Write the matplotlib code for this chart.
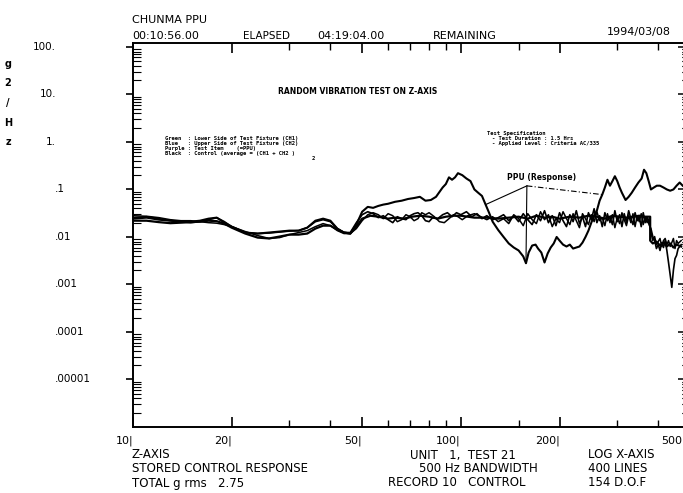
import matplotlib
matplotlib.use('Agg')
import matplotlib.pyplot as plt
from matplotlib.ticker import FixedLocator, NullFormatter, LogLocator
import matplotlib.transforms as mtransforms

# ---------------- data ----------------
ppu_f = [10, 11, 12, 13, 14, 15, 16, 17, 18, 19, 20, 22, 24, 26, 28, 30, 32, 34, 36, 38,
         40, 42, 44, 46, 48, 50, 52, 54, 56, 58, 60, 63, 66, 69, 72, 75, 78, 81, 84, 86,
         88, 90, 92, 94, 96, 98, 101, 104, 107, 110, 113, 116, 119, 122, 125, 130, 135, 140, 145, 150,
         155, 158, 161, 165, 169, 172, 176, 180, 184, 188, 192, 196, 200, 205, 210, 215, 220, 225, 230, 235,
         240, 245, 250, 255, 260, 265, 270, 275, 280, 285, 290, 295, 300, 305, 310, 318, 325, 332, 340, 348,
         356, 362, 368, 374, 380, 388, 396, 405, 415, 425, 435, 445, 455, 465, 475]
ppu_v = [0.0243, 0.0255, 0.0231, 0.022, 0.021, 0.021, 0.022, 0.0243, 0.0255, 0.020, 0.0165, 0.0124, 0.0118, 0.0124, 0.013, 0.0136, 0.0136, 0.0157, 0.022, 0.0243,
         0.022, 0.015, 0.0124, 0.0118, 0.0182, 0.034, 0.043, 0.041, 0.045, 0.048, 0.050, 0.055, 0.058, 0.063, 0.066, 0.070, 0.058, 0.060, 0.070, 0.088,
         0.11, 0.13, 0.18, 0.16, 0.18, 0.22, 0.20, 0.17, 0.15, 0.10, 0.085, 0.073, 0.048, 0.032, 0.021, 0.014, 0.010, 0.0073, 0.0060, 0.0052,
         0.0039, 0.0028, 0.0047, 0.0066, 0.0069, 0.0057, 0.0047, 0.0029, 0.0045, 0.0060, 0.0073, 0.010, 0.0084, 0.0069, 0.0063, 0.0069, 0.0057, 0.0060, 0.0063, 0.0076,
         0.010, 0.0136, 0.020, 0.028, 0.036, 0.058, 0.078, 0.11, 0.16, 0.12, 0.15, 0.19, 0.15, 0.11, 0.085, 0.060, 0.070, 0.085, 0.11, 0.14,
         0.17, 0.26, 0.22, 0.15, 0.10, 0.11, 0.12, 0.12, 0.11, 0.10, 0.094, 0.10, 0.12, 0.14, 0.12]

ctrl_f = [10, 11, 12, 13, 14, 15, 16, 17, 18, 19, 20, 22, 24, 26, 28, 30, 32, 34, 36, 38,
          40, 42, 44, 46, 48, 50, 53, 56, 60, 63, 67, 71, 75, 80, 85, 90, 95, 100, 105, 110,
          120, 130, 140, 150, 160, 170, 180, 190, 200, 215, 230, 245, 260, 275, 290, 305, 320, 335, 350, 365,
          378, 378, 385, 395, 405, 415, 425, 435, 445, 455, 470]
ctrl_v = [0.022, 0.022, 0.0205, 0.0195, 0.020, 0.0205, 0.021, 0.022, 0.0215, 0.019, 0.0157, 0.0118, 0.0097, 0.0093, 0.0102, 0.0112, 0.0112, 0.0118, 0.015, 0.0173,
          0.0173, 0.0143, 0.0124, 0.0118, 0.0165, 0.0243, 0.028, 0.0267, 0.0243, 0.0255, 0.0243, 0.0267, 0.028, 0.0267, 0.0243, 0.0267, 0.028, 0.028, 0.0267, 0.0255,
          0.0255, 0.0243, 0.0255, 0.0267, 0.0243, 0.0280, 0.0255, 0.0267, 0.0243, 0.0267, 0.0255, 0.028, 0.0267, 0.0243, 0.0280, 0.0267, 0.0255, 0.0267, 0.028, 0.0267,
          0.0267, 0.0084, 0.0073, 0.0080, 0.0066, 0.0076, 0.0063, 0.0073, 0.0060, 0.0069, 0.0063]

ch1_f = [10, 11, 12, 13, 14, 15, 16, 17, 18, 19, 20, 22, 24, 26, 28, 30, 32, 34, 36, 38,
         40, 42, 44, 46, 48, 50, 52, 54, 56, 58, 60, 62, 64, 66, 68, 70, 72, 74, 76, 78,
         80, 82, 85, 88, 91, 94, 97, 100, 104, 108, 112, 116, 120, 125, 130, 135, 140, 145, 150, 155,
         160, 165, 170, 175, 180, 185, 190, 195, 200, 205, 210, 215, 220, 225, 230, 235, 240, 245, 250, 255,
         260, 265, 270, 275, 280, 285, 290, 295, 300, 305, 310, 315, 320, 325, 330, 335, 340, 345, 350, 355,
         360, 365, 370, 375, 380, 385, 390, 395, 400, 405, 410, 415, 420, 425, 430, 435, 440, 445, 450, 455,
         460, 470]
ch1_v = [0.0255, 0.0267, 0.0243, 0.022, 0.021, 0.020, 0.021, 0.0231, 0.0255, 0.021, 0.0165, 0.0124, 0.0118, 0.0121, 0.0127, 0.0133, 0.0136, 0.0157, 0.021, 0.0231,
         0.021, 0.015, 0.0124, 0.0124, 0.020, 0.0294, 0.034, 0.0309, 0.0255, 0.028, 0.0231, 0.020, 0.0267, 0.0243, 0.0231, 0.028, 0.0309, 0.0324, 0.028, 0.022,
         0.021, 0.0255, 0.0243, 0.0294, 0.0324, 0.0267, 0.0324, 0.0294, 0.034, 0.0267, 0.0309, 0.0243, 0.028, 0.0231, 0.0255, 0.0294, 0.022, 0.028, 0.021, 0.0309,
         0.0231, 0.0182, 0.0294, 0.022, 0.0357, 0.020, 0.028, 0.0173, 0.0324, 0.022, 0.0165, 0.0294, 0.021, 0.0357, 0.0191, 0.0267, 0.0165, 0.0324, 0.0231, 0.0393,
         0.020, 0.028, 0.0165, 0.0324, 0.022, 0.0267, 0.0182, 0.0357, 0.021, 0.0294, 0.0165, 0.0309, 0.020, 0.0357, 0.0243, 0.0182, 0.0324, 0.022, 0.0267, 0.0165,
         0.0324, 0.020, 0.0267, 0.0182, 0.015, 0.0102, 0.0084, 0.0057, 0.0069, 0.0052, 0.0076, 0.0060, 0.0084, 0.0052, 0.0029, 0.0016, 0.00087, 0.0020, 0.0035, 0.0041,
         0.0057, 0.0069]

ch2_f = [10, 11, 12, 13, 14, 15, 16, 17, 18, 19, 20, 22, 24, 26, 28, 30, 32, 34, 36, 38,
         40, 42, 44, 46, 48, 50, 52, 54, 56, 58, 60, 62, 64, 66, 68, 70, 72, 74, 76, 78,
         80, 83, 86, 89, 92, 95, 98, 101, 105, 110, 115, 120, 125, 130, 135, 140, 145, 150, 155, 160,
         165, 170, 175, 180, 185, 190, 195, 200, 205, 210, 215, 220, 225, 230, 235, 240, 245, 250, 255, 260,
         265, 270, 275, 280, 285, 290, 295, 300, 305, 310, 315, 320, 325, 330, 335, 340, 345, 350, 355, 360,
         365, 370, 375, 380, 385, 390, 395, 400, 405, 410, 415, 420, 425, 430, 435, 440, 445, 450, 455, 460,
         470]
ch2_v = [0.028, 0.0273, 0.0255, 0.0231, 0.022, 0.022, 0.021, 0.020, 0.0195, 0.0182, 0.0165, 0.013, 0.0107, 0.0093, 0.0097, 0.0112, 0.0124, 0.0136, 0.0165, 0.0191,
         0.0173, 0.0136, 0.0118, 0.0118, 0.015, 0.022, 0.0294, 0.0324, 0.0294, 0.0243, 0.0309, 0.028, 0.021, 0.0231, 0.0294, 0.0267, 0.022, 0.0243, 0.0324, 0.0294,
         0.0324, 0.0267, 0.021, 0.020, 0.0243, 0.0294, 0.0267, 0.0231, 0.028, 0.0309, 0.0267, 0.0231, 0.0267, 0.021, 0.0243, 0.0191, 0.0294, 0.0243, 0.0173, 0.0309,
         0.0231, 0.0191, 0.034, 0.0231, 0.0294, 0.0165, 0.0243, 0.020, 0.034, 0.0243, 0.0182, 0.0309, 0.022, 0.0157, 0.0309, 0.0243, 0.0182, 0.0294, 0.021, 0.034,
         0.022, 0.0255, 0.0173, 0.0309, 0.020, 0.0294, 0.0157, 0.0255, 0.0191, 0.0324, 0.0231, 0.0173, 0.028, 0.020, 0.0309, 0.0165, 0.028, 0.021, 0.0309, 0.0182,
         0.0267, 0.020, 0.0243, 0.0124, 0.0084, 0.0102, 0.0069, 0.0080, 0.0093, 0.0063, 0.0084, 0.0093, 0.0069, 0.0084, 0.0063, 0.0076, 0.0093, 0.0057, 0.0084, 0.0073,
         0.0084]

x_ticks = [10, 20, 50, 100, 200, 500]
x_ticklabels = ["10|", "20|", "50|", "100|", "200|", "500"]
x_minor = [30, 40, 60, 70, 80, 90, 150, 300, 400]
y_ticks = [1e2, 1e1, 1e0, 1e-1, 1e-2, 1e-3, 1e-4, 1e-5]
y_ticklabels = ["100.", "10.", "1.", ".1", ".01", ".001", ".0001", ".00001"]

# ---------------- figure ----------------
W, H = 683, 493
fig = plt.figure(figsize=(W / 100, H / 100), dpi=100)
fig.patch.set_facecolor('white')


def fx(px):
    return px / W


def fy(py):
    return 1 - py / H


ax = fig.add_axes([fx(133), fy(427), fx(690) - fx(133), fy(43) - fy(427)])
ax.set_xscale('log')
ax.set_yscale('log')
ax.set_xlim(10, 500)
ax.set_ylim(1e-6, 121)
for s in ax.spines.values():
    s.set_linewidth(1.4)
    s.set_color('black')

ax.plot(ch2_f, ch2_v, color='black', lw=1.1)
ax.plot(ch1_f, ch1_v, color='black', lw=1.2)
ax.plot(ctrl_f, ctrl_v, color='black', lw=1.6)
ax.plot(ppu_f, ppu_v, color='black', lw=1.5)

# x ticks (labels drawn as texts so the last one can sit inside the picture)
ax.xaxis.set_major_locator(FixedLocator(x_ticks))
ax.xaxis.set_major_formatter(NullFormatter())
ax.xaxis.set_minor_locator(FixedLocator(x_minor))
ax.xaxis.set_minor_formatter(NullFormatter())
ax.tick_params(axis='x', which='major', direction='in', length=7, width=1.2,
               top=True, bottom=True)
ax.tick_params(axis='x', which='minor', direction='in', length=5, width=1.0,
               top=True, bottom=True)
xblend = mtransforms.blended_transform_factory(ax.transData, ax.transAxes)
for i, (val, lab) in enumerate(zip(x_ticks, x_ticklabels)):
    dx = -8 / 100 if i == len(x_ticks) - 1 else 0
    tr = xblend + mtransforms.ScaledTranslation(dx, -14 / 100, fig.dpi_scale_trans)
    ax.text(val, 0, lab, transform=tr, ha='right', va='center', fontsize=8, clip_on=False)

# y ticks
ax.yaxis.set_major_locator(FixedLocator(y_ticks))
ax.yaxis.set_minor_locator(LogLocator(base=10, subs=(2, 3, 4, 5, 6, 7, 8, 9), numticks=20))
ax.yaxis.set_major_formatter(NullFormatter())
ax.yaxis.set_minor_formatter(NullFormatter())
ax.tick_params(axis='y', which='major', direction='out', length=5, width=1.2,
               left=True, right=False)
ax.tick_params(axis='y', which='minor', direction='in', length=6, width=0.8,
               left=True, right=True)
sec = ax.secondary_yaxis('right')
sec.set_yscale('log')
sec.yaxis.set_major_locator(FixedLocator(y_ticks))
sec.yaxis.set_minor_locator(LogLocator(base=10, subs=(2, 3, 4, 5, 6, 7, 8, 9), numticks=20))
sec.yaxis.set_major_formatter(NullFormatter())
sec.yaxis.set_minor_formatter(NullFormatter())
sec.tick_params(which='major', direction='in', length=9, width=1.1)
sec.tick_params(which='minor', direction='in', length=6, width=0.8)

# y tick labels (aligned on decimal point)
blend = mtransforms.blended_transform_factory(fig.transFigure, ax.transData)
for val, lab in zip(y_ticks, y_ticklabels):
    if lab.startswith('.'):
        fig.text(fx(55), val, lab, transform=blend, ha='left', va='center', fontsize=7.5)
    else:
        fig.text(fx(56), val, lab, transform=blend, ha='right', va='center', fontsize=7.5)

# stacked unit label g2/Hz
for ch, py in zip(["g", "2", "/", "H", "z"], [64, 83.5, 103, 122.5, 142]):
    fig.text(fx(8), fy(py), ch, ha='center', va='center', fontsize=7, fontweight='bold')

# header texts
fig.text(fx(132), fy(20), "CHUNMA PPU", ha='left', va='center', fontsize=8)
fig.text(fx(671), fy(32), "1994/03/08", ha='right', va='center', fontsize=8)
fig.text(fx(132), fy(36), "00:10:56.00", ha='left', va='center', fontsize=8)
fig.text(fx(243), fy(36), "ELAPSED", ha='left', va='center', fontsize=7.5)
fig.text(fx(317), fy(36), "04:19:04.00", ha='left', va='center', fontsize=8)
fig.text(fx(433), fy(36), "REMAINING", ha='left', va='center', fontsize=8)

# title inside plot
fig.text(fx(358), fy(92), "RANDOM VIBRATION TEST ON Z-AXIS", ha='center', va='center',
         fontsize=5.5, fontweight='bold')

# colour legend block
legend_lines = ["Green  : Lower Side of Test Fixture (CH1)",
                "Blue   : Upper Side of Test Fixture (CH2)",
                "Purple : Test Item    (=PPU)",
                "Black  : Control (average = (CH1 + CH2 )"]
for i, t in enumerate(legend_lines):
    fig.text(fx(165), fy(138.3 + 5 * i), t, ha='left', va='center', fontsize=4,
             fontweight='bold', family='DejaVu Sans Mono')
fig.text(fx(313), fy(158.5), "2", ha='center', va='center', fontsize=4,
         fontweight='bold', family='DejaVu Sans Mono')

spec_lines = [(487, "Test Specification"),
              (492, "- Test Duration : 1.5 Hrs"),
              (492, "- Applied Level : Criteria AC/335")]
for i, (px, t) in enumerate(spec_lines):
    fig.text(fx(px), fy(133.3 + 5 * i), t, ha='left', va='center', fontsize=4,
             fontweight='bold', family='DejaVu Sans Mono')

# PPU annotation
fig.text(fx(507), fy(177), "PPU (Response)", ha='left', va='center', fontsize=5.5,
         fontweight='bold')
apex = (159, 0.119)
i1 = ppu_f.index(119)
i2 = ppu_f.index(158)
i3 = ppu_f.index(270)
ax.plot([apex[0], ppu_f[i1]], [apex[1], ppu_v[i1]], color='black', lw=0.8)
ax.plot([apex[0], ppu_f[i2]], [apex[1], ppu_v[i2]], color='black', lw=0.8)
ax.plot([apex[0], ppu_f[i3]], [apex[1], ppu_v[i3]], color='black', lw=0.8, ls=(0, (5, 2, 1, 2)))

# footer texts
fs = 8.5
fig.text(fx(132), fy(455), "Z-AXIS", ha='left', va='center', fontsize=fs)
fig.text(fx(132), fy(469), "STORED CONTROL RESPONSE", ha='left', va='center', fontsize=fs)
fig.text(fx(132), fy(483), "TOTAL g rms   2.75", ha='left', va='center', fontsize=fs)
fig.text(fx(410), fy(455), "UNIT   1,  TEST 21", ha='left', va='center', fontsize=fs)
fig.text(fx(419), fy(469), "500 Hz BANDWIDTH", ha='left', va='center', fontsize=fs)
fig.text(fx(388), fy(483), "RECORD 10   CONTROL", ha='left', va='center', fontsize=fs)
fig.text(fx(588), fy(455), "LOG X-AXIS", ha='left', va='center', fontsize=fs)
fig.text(fx(588), fy(469), "400 LINES", ha='left', va='center', fontsize=fs)
fig.text(fx(588), fy(483), "154 D.O.F", ha='left', va='center', fontsize=fs)

fig.savefig('out.png', dpi=100, facecolor='white')
